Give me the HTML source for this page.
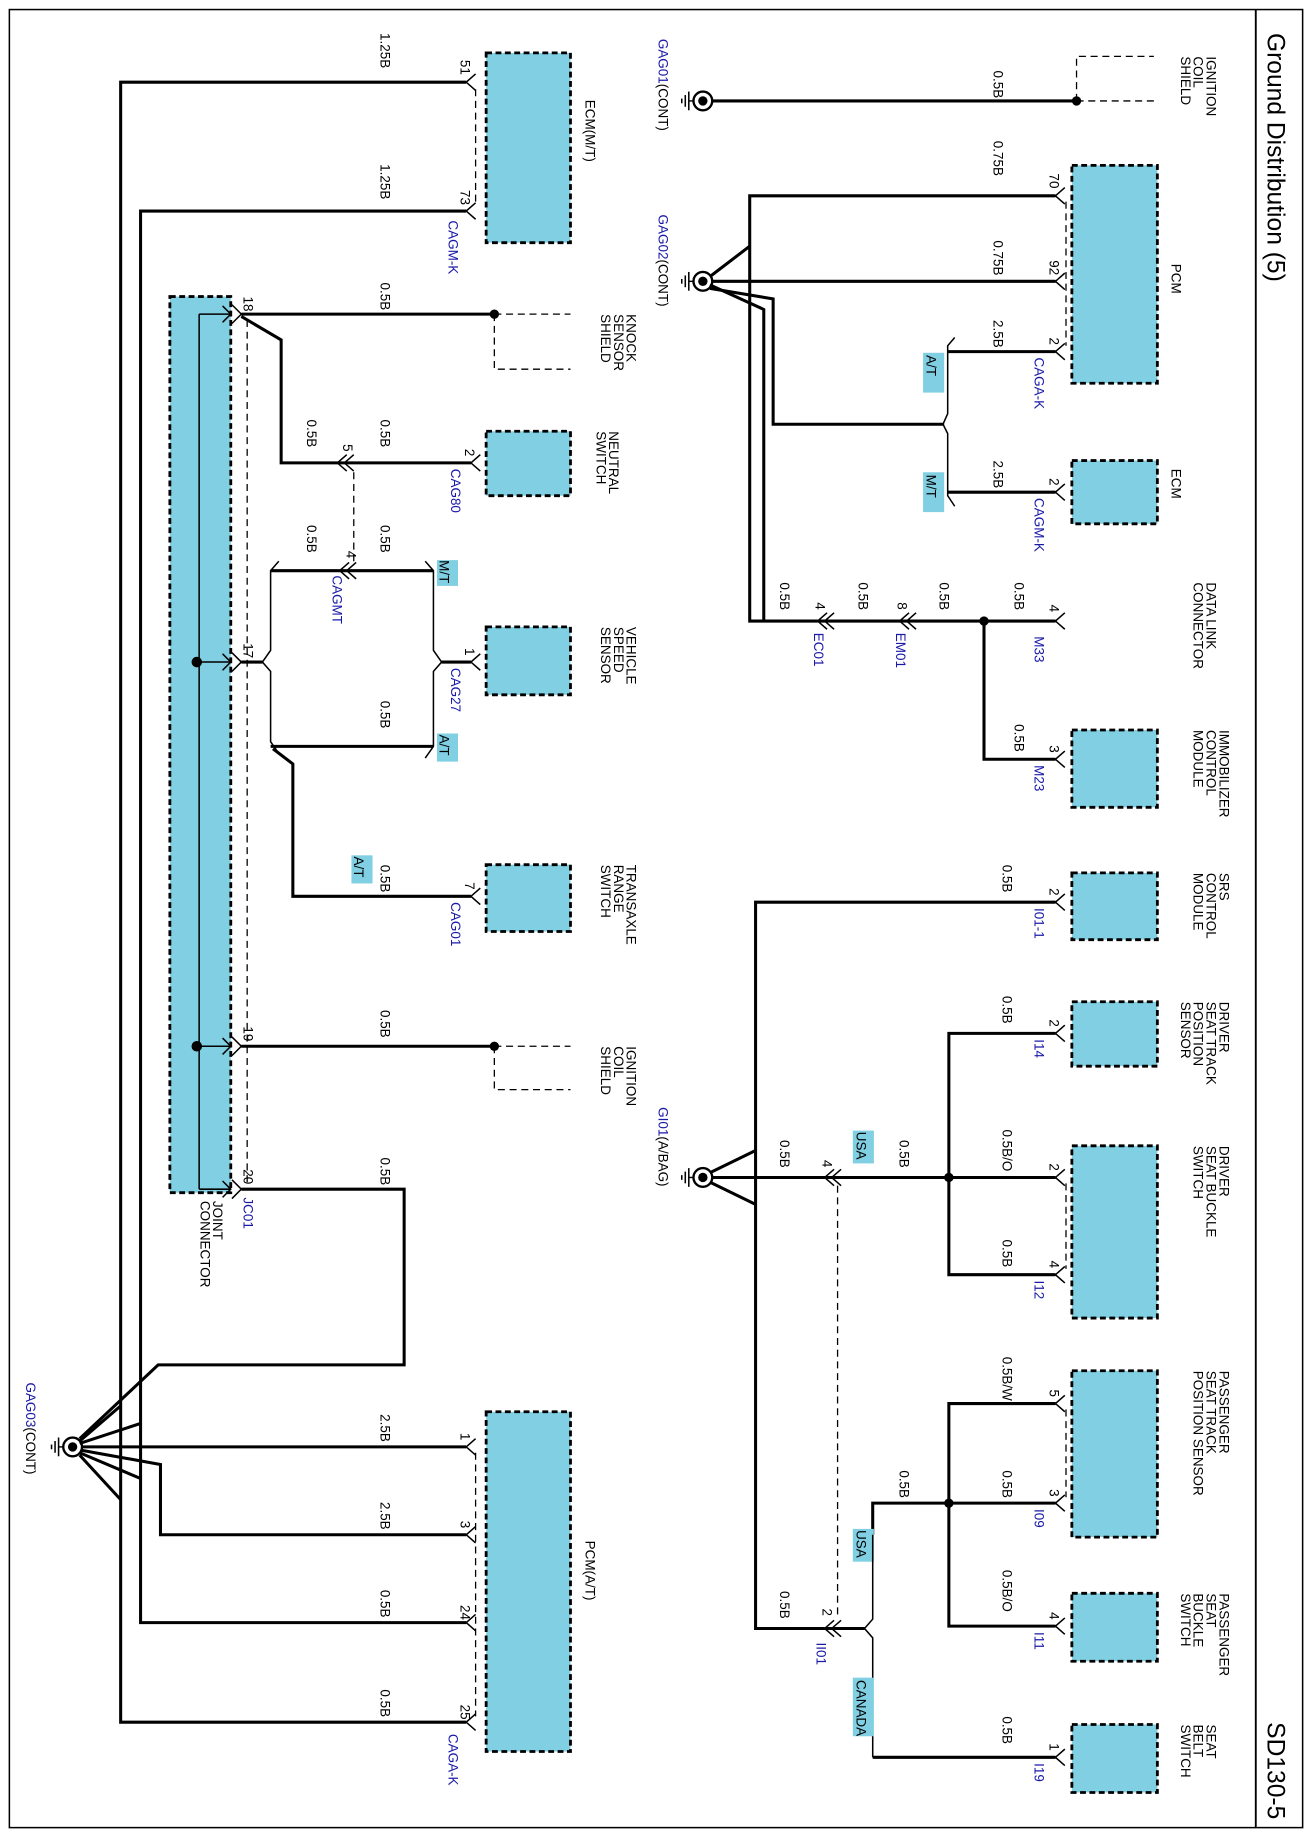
<!DOCTYPE html>
<html><head><meta charset="utf-8"><style>
html,body{margin:0;padding:0;background:#fff}
svg{display:block}
text{font-family:"Liberation Sans",sans-serif;font-size:11.5px;fill:#000}
.b{fill:#1a1aa8}
.w{stroke:#000;stroke-width:2.6;fill:none}
.t{stroke:#000;stroke-width:1.3;fill:none}
.d{stroke:#000;stroke-width:1.1;fill:none;stroke-dasharray:6,4}
.box{fill:#80cfe2;stroke:#000;stroke-width:2.4;stroke-dasharray:5,3}
.tag{fill:#80cfe2}
</style></head><body>
<svg width="1312" height="1836" viewBox="0 0 1120 1567" xmlns="http://www.w3.org/2000/svg">
<rect x="8" y="8" width="1104" height="1552" fill="none" stroke="#000" stroke-width="1.3"/>
<line x1="1072" y1="8" x2="1072" y2="1560" stroke="#000" stroke-width="1.6"/>
<text transform="translate(1082,28) rotate(90)" style="font-size:21px">Ground Distribution (5)</text>
<text transform="translate(1082,1470) rotate(90)" style="font-size:21px">SD130-5</text>

<defs>
<g id="gnd"><circle cx="0" cy="0" r="8" fill="#fff" stroke="#000" stroke-width="2"/><circle cx="0" cy="0" r="4" fill="#000"/>
<line x1="-8" y1="0" x2="-12" y2="0" stroke="#000" stroke-width="1.2"/><line x1="-12" y1="-8" x2="-12" y2="8" stroke="#000" stroke-width="1.3"/><line x1="-15" y1="-5" x2="-15" y2="5" stroke="#000" stroke-width="1.3"/><line x1="-18" y1="-2" x2="-18" y2="2" stroke="#000" stroke-width="1.3"/></g>
<path id="pin" d="M8,-7 L0,0 L8,7" stroke="#000" stroke-width="1.3" fill="none"/>
</defs>

<!-- ========== RIGHT-TOP ========== -->
<use href="#gnd" x="600" y="86"/>
<text transform="translate(562,33) rotate(90)" class="b">GAG01<tspan fill="#000">(CONT)</tspan></text>
<line class="w" x1="608" y1="86" x2="919" y2="86"/>
<circle cx="919" cy="86" r="4"/>
<path class="d" d="M919,86 V48 H985 M919,86 H985"/>
<text transform="translate(1030,48) rotate(90)"><tspan x="0">IGNITION</tspan><tspan x="0" dy="11">COIL</tspan><tspan x="0" dy="11">SHIELD</tspan></text>
<text transform="translate(848,60) rotate(90)">0.5B</text>

<!-- PCM -->
<rect class="box" x="915" y="141" width="73" height="186"/>
<text transform="translate(1000,225) rotate(90)">PCM</text>
<use href="#pin" x="901" y="167"/><use href="#pin" x="901" y="240"/><use href="#pin" x="901" y="300"/>
<line class="d" x1="910" y1="172" x2="910" y2="295"/>
<text transform="translate(896,148) rotate(90)">70</text>
<text transform="translate(896,222) rotate(90)">92</text>
<text transform="translate(896,288) rotate(90)">2</text>
<text transform="translate(883,305) rotate(90)" class="b">CAGA-K</text>
<text transform="translate(848,120) rotate(90)">0.75B</text>
<text transform="translate(848,205) rotate(90)">0.75B</text>
<text transform="translate(848,273) rotate(90)">2.5B</text>
<text transform="translate(848,393) rotate(90)">2.5B</text>

<use href="#gnd" x="600" y="240"/>
<text transform="translate(562,183) rotate(90)" class="b">GAG02<tspan fill="#000">(CONT)</tspan></text>
<polyline class="w" points="901,167 640,167 640,530 698,530"/>
<line class="w" x1="608" y1="240" x2="901" y2="240"/>
<polyline class="w" points="606,236 640,210"/>
<polyline class="w" points="606,243 652,264 652,530"/>
<polyline class="w" points="606,246 660,255 660,362 806,362"/>
<!-- fork -->
<path class="t" d="M815,288 L809,295 V353 L805,362 L809,370 V423 L815,432"/>
<line class="w" x1="809" y1="300" x2="901" y2="300"/>
<line class="w" x1="809" y1="420" x2="901" y2="420"/>
<rect class="tag" x="788" y="301" width="18" height="34"/><text transform="translate(791,303) rotate(90)">A/T</text>
<rect class="tag" x="788" y="403" width="18" height="34"/><text transform="translate(791,405) rotate(90)">M/T</text>

<!-- ECM -->
<rect class="box" x="915" y="393" width="73" height="54"/>
<text transform="translate(1000,400) rotate(90)">ECM</text>
<use href="#pin" x="901" y="420"/>
<text transform="translate(896,408) rotate(90)">2</text>
<text transform="translate(883,425) rotate(90)" class="b">CAGM-K</text>

<!-- Data link -->
<line class="w" x1="698" y1="530" x2="901" y2="530"/>
<use href="#pin" x="698" y="530"/><use href="#pin" x="704" y="530"/>
<use href="#pin" x="768" y="530"/><use href="#pin" x="774" y="530"/>
<text transform="translate(696,514) rotate(90)">4</text>
<text transform="translate(766,514) rotate(90)">8</text>
<text transform="translate(695,540) rotate(90)" class="b">EC01</text>
<text transform="translate(765,540) rotate(90)" class="b">EM01</text>
<text transform="translate(666,497) rotate(90)">0.5B</text>
<text transform="translate(733,497) rotate(90)">0.5B</text>
<text transform="translate(802,497) rotate(90)">0.5B</text>
<text transform="translate(866,497) rotate(90)">0.5B</text>
<use href="#pin" x="901" y="530"/>
<text transform="translate(896,516) rotate(90)">4</text>
<text transform="translate(883,543) rotate(90)" class="b">M33</text>
<text transform="translate(1030,497) rotate(90)"><tspan x="0">DATA LINK</tspan><tspan x="0" dy="11">CONNECTOR</tspan></text>
<circle cx="840" cy="530" r="4"/>
<polyline class="w" points="840,530 840,648 901,648"/>
<rect class="box" x="915" y="623" width="73" height="66"/>
<use href="#pin" x="901" y="648"/>
<text transform="translate(896,636) rotate(90)">3</text>
<text transform="translate(883,653) rotate(90)" class="b">M23</text>
<text transform="translate(866,618) rotate(90)">0.5B</text>
<text transform="translate(1041,623) rotate(90)"><tspan x="0">IMMOBILIZER</tspan><tspan x="0" dy="11">CONTROL</tspan><tspan x="0" dy="11">MODULE</tspan></text>

<!-- SRS etc -->
<rect class="box" x="915" y="745" width="73" height="57"/>
<text transform="translate(1041,745) rotate(90)"><tspan x="0">SRS</tspan><tspan x="0" dy="11">CONTROL</tspan><tspan x="0" dy="11">MODULE</tspan></text>
<use href="#pin" x="901" y="770"/>
<text transform="translate(896,758) rotate(90)">2</text>
<text transform="translate(883,775) rotate(90)" class="b">I01-1</text>
<text transform="translate(856,738) rotate(90)">0.5B</text>
<polyline class="w" points="901,770 645,770 645,1390 704,1390"/>

<rect class="box" x="915" y="855" width="73" height="55"/>
<text transform="translate(1041,855) rotate(90)"><tspan x="0">DRIVER</tspan><tspan x="0" dy="11">SEAT TRACK</tspan><tspan x="0" dy="11">POSITION</tspan><tspan x="0" dy="11">SENSOR</tspan></text>
<use href="#pin" x="901" y="882"/>
<text transform="translate(896,870) rotate(90)">2</text>
<text transform="translate(883,887) rotate(90)" class="b">I14</text>
<text transform="translate(856,850) rotate(90)">0.5B</text>
<polyline class="w" points="901,882 810,882 810,1088 901,1088"/>

<rect class="box" x="915" y="978" width="73" height="147"/>
<text transform="translate(1041,978) rotate(90)"><tspan x="0">DRIVER</tspan><tspan x="0" dy="11">SEAT BUCKLE</tspan><tspan x="0" dy="11">SWITCH</tspan></text>
<use href="#pin" x="901" y="1005"/><use href="#pin" x="901" y="1088"/>
<line class="d" x1="910" y1="1010" x2="910" y2="1083"/>
<text transform="translate(896,993) rotate(90)">2</text>
<text transform="translate(896,1076) rotate(90)">4</text>
<text transform="translate(883,1093) rotate(90)" class="b">I12</text>
<text transform="translate(856,964) rotate(90)">0.5B/O</text>
<text transform="translate(856,1058) rotate(90)">0.5B</text>
<line class="w" x1="608" y1="1005" x2="901" y2="1005"/>
<circle cx="810" cy="1005" r="4"/>
<use href="#pin" x="704" y="1005"/><use href="#pin" x="710" y="1005"/>
<text transform="translate(702,990) rotate(90)">4</text>
<text transform="translate(768,973) rotate(90)">0.5B</text>
<text transform="translate(666,973) rotate(90)">0.5B</text>
<rect class="tag" x="728" y="965" width="18" height="28"/><text transform="translate(731,966) rotate(90)">USA</text>
<line class="d" x1="715" y1="1012" x2="715" y2="1380"/>

<use href="#gnd" x="600" y="1005"/>
<text transform="translate(562,945) rotate(90)" class="b">GI01<tspan fill="#000">(A/BAG)</tspan></text>
<polyline class="w" points="606,1001 645,982"/>
<polyline class="w" points="606,1009 645,1028"/>

<rect class="box" x="915" y="1170" width="73" height="142"/>
<text transform="translate(1041,1170) rotate(90)"><tspan x="0">PASSENGER</tspan><tspan x="0" dy="11">SEAT TRACK</tspan><tspan x="0" dy="11">POSITION SENSOR</tspan></text>
<use href="#pin" x="901" y="1198"/><use href="#pin" x="901" y="1283"/>
<line class="d" x1="910" y1="1203" x2="910" y2="1278"/>
<text transform="translate(896,1186) rotate(90)">5</text>
<text transform="translate(896,1271) rotate(90)">3</text>
<text transform="translate(883,1288) rotate(90)" class="b">I09</text>
<text transform="translate(856,1158) rotate(90)">0.5B/W</text>
<text transform="translate(856,1255) rotate(90)">0.5B</text>
<text transform="translate(856,1340) rotate(90)">0.5B/O</text>
<polyline class="w" points="901,1198 810,1198 810,1388 901,1388"/>
<circle cx="810" cy="1283" r="4"/>
<polyline class="w" points="901,1283 745,1283 745,1310"/>
<text transform="translate(768,1255) rotate(90)">0.5B</text>
<rect class="tag" x="728" y="1305" width="18" height="28"/><text transform="translate(731,1306) rotate(90)">USA</text>
<path class="t" d="M745,1310 V1382 L738,1390 L745,1398 V1500"/>
<line class="w" x1="745" y1="1500" x2="901" y2="1500"/>
<line class="w" x1="704" y1="1390" x2="738" y2="1390"/>
<use href="#pin" x="704" y="1390"/><use href="#pin" x="710" y="1390"/>
<text transform="translate(702,1373) rotate(90)">2</text>
<text transform="translate(697,1402) rotate(90)" class="b">II01</text>
<text transform="translate(666,1358) rotate(90)">0.5B</text>
<rect class="tag" x="728" y="1432" width="18" height="50"/><text transform="translate(731,1434) rotate(90)">CANADA</text>

<rect class="box" x="915" y="1360" width="73" height="58"/>
<text transform="translate(1041,1360) rotate(90)"><tspan x="0">PASSENGER</tspan><tspan x="0" dy="11">SEAT</tspan><tspan x="0" dy="11">BUCKLE</tspan><tspan x="0" dy="11">SWITCH</tspan></text>
<use href="#pin" x="901" y="1388"/>
<text transform="translate(896,1376) rotate(90)">4</text>
<text transform="translate(883,1393) rotate(90)" class="b">I11</text>

<rect class="box" x="915" y="1472" width="73" height="58"/>
<text transform="translate(1030,1472) rotate(90)"><tspan x="0">SEAT</tspan><tspan x="0" dy="11">BELT</tspan><tspan x="0" dy="11">SWITCH</tspan></text>
<use href="#pin" x="901" y="1500"/>
<text transform="translate(896,1488) rotate(90)">1</text>
<text transform="translate(883,1505) rotate(90)" class="b">I19</text>
<text transform="translate(856,1465) rotate(90)">0.5B</text>

<!-- ========== LEFT ========== -->
<rect class="box" x="415" y="45" width="72" height="162"/>
<text transform="translate(500,85) rotate(90)">ECM(M/T)</text>
<use href="#pin" x="398" y="70"/><use href="#pin" x="398" y="180"/>
<line class="d" x1="406" y1="76" x2="406" y2="175"/>
<text transform="translate(393,51) rotate(90)">51</text>
<text transform="translate(393,162) rotate(90)">73</text>
<text transform="translate(383,188) rotate(90)" class="b">CAGM-K</text>
<text transform="translate(325,28) rotate(90)">1.25B</text>
<text transform="translate(325,140) rotate(90)">1.25B</text>
<polyline class="w" points="398,70 103,70 103,1470 398,1470"/>
<polyline class="w" points="398,180 120,180 120,1385 398,1385"/>

<!-- Joint connector -->
<rect class="box" x="145" y="253" width="52" height="765"/>
<line x1="170" y1="268" x2="170" y2="1015" stroke="#000" stroke-width="1.3"/>
<g class="t">
<path d="M170,268 H197 M190,261 L197,268 L190,275"/>
<path d="M170,565 H197 M190,558 L197,565 L190,572"/>
<path d="M170,893 H197 M190,886 L197,893 L190,900"/>
<path d="M170,1015 H197 M190,1008 L197,1015 L190,1022"/>
</g>
<circle cx="168" cy="565" r="4.5"/><circle cx="168" cy="893" r="4.5"/>
<path class="t" d="M198,260 L206,268 L198,276 M198,557 L206,565 L198,573 M198,885 L206,893 L198,901 M198,1007 L206,1015 L198,1023"/>
<line class="d" x1="211" y1="273" x2="211" y2="1010"/>
<text transform="translate(208,253) rotate(90)">18</text>
<text transform="translate(208,549) rotate(90)">17</text>
<text transform="translate(208,876) rotate(90)">19</text>
<text transform="translate(208,998) rotate(90)">20</text>
<text transform="translate(208,1022) rotate(90)" class="b">JC01</text>
<text transform="translate(182,1025) rotate(90)"><tspan x="0">JOINT</tspan><tspan x="0" dy="11">CONNECTOR</tspan></text>

<line class="w" x1="206" y1="268" x2="422" y2="268"/>
<circle cx="422" cy="268" r="4"/>
<path class="d" d="M422,268 V315 H487 M422,268 H487"/>
<text transform="translate(535,268) rotate(90)"><tspan x="0">KNOCK</tspan><tspan x="0" dy="11">SENSOR</tspan><tspan x="0" dy="11">SHIELD</tspan></text>
<text transform="translate(325,241) rotate(90)">0.5B</text>
<polyline class="w" points="206,270 240,290 240,395 288,395"/>
<use href="#pin" x="288" y="395"/><use href="#pin" x="294" y="395"/>
<line class="w" x1="288" y1="395" x2="402" y2="395"/>
<text transform="translate(293,379) rotate(90)">5</text>
<text transform="translate(262,358) rotate(90)">0.5B</text>
<text transform="translate(325,358) rotate(90)">0.5B</text>
<rect class="box" x="415" y="368" width="72" height="55"/>
<use href="#pin" x="402" y="395"/>
<text transform="translate(397,383) rotate(90)">2</text>
<text transform="translate(385,400) rotate(90)" class="b">CAG80</text>
<text transform="translate(520,368) rotate(90)"><tspan x="0">NEUTRAL</tspan><tspan x="0" dy="11">SWITCH</tspan></text>
<line class="d" x1="302" y1="403" x2="302" y2="480"/>

<!-- 17 -->
<line class="w" x1="206" y1="565" x2="224" y2="565"/>
<path class="t" d="M238,479 L231,487 V555 L224,565 L231,573 V633 L238,643"/>
<polyline class="w" points="231,487 370,487"/>
<use href="#pin" x="290" y="487"/><use href="#pin" x="296" y="487"/>
<path class="t" d="M363,479 L370,487 V555 L377,565 L370,573 V637 L363,647"/>
<text transform="translate(296,470) rotate(90)">4</text>
<text transform="translate(284,491) rotate(90)" class="b">CAGMT</text>
<text transform="translate(262,448) rotate(90)">0.5B</text>
<text transform="translate(325,448) rotate(90)">0.5B</text>
<rect class="tag" x="373" y="478" width="18" height="22"/><text transform="translate(375,478) rotate(90)">M/T</text>
<line class="w" x1="377" y1="565" x2="402" y2="565"/>
<rect class="box" x="415" y="535" width="72" height="58"/>
<use href="#pin" x="402" y="565"/>
<text transform="translate(397,553) rotate(90)">1</text>
<text transform="translate(385,570) rotate(90)" class="b">CAG27</text>
<text transform="translate(535,535) rotate(90)"><tspan x="0">VEHICLE</tspan><tspan x="0" dy="11">SPEED</tspan><tspan x="0" dy="11">SENSOR</tspan></text>
<line class="w" x1="231" y1="637" x2="370" y2="637"/>
<text transform="translate(325,598) rotate(90)">0.5B</text>
<rect class="tag" x="373" y="626" width="18" height="24"/><text transform="translate(375,627) rotate(90)">A/T</text>
<polyline class="w" points="233,639 250,652 250,765 402,765"/>
<rect class="tag" x="300" y="730" width="18" height="24"/><text transform="translate(302,731) rotate(90)">A/T</text>
<text transform="translate(325,738) rotate(90)">0.5B</text>
<rect class="box" x="415" y="738" width="72" height="57"/>
<use href="#pin" x="402" y="765"/>
<text transform="translate(397,753) rotate(90)">7</text>
<text transform="translate(385,770) rotate(90)" class="b">CAG01</text>
<text transform="translate(535,738) rotate(90)"><tspan x="0">TRANSAXLE</tspan><tspan x="0" dy="11">RANGE</tspan><tspan x="0" dy="11">SWITCH</tspan></text>

<!-- 19 -->
<line class="w" x1="206" y1="893" x2="422" y2="893"/>
<circle cx="422" cy="893" r="4"/>
<path class="d" d="M422,893 V930 H487 M422,893 H487"/>
<text transform="translate(325,862) rotate(90)">0.5B</text>
<text transform="translate(535,893) rotate(90)"><tspan x="0">IGNITION</tspan><tspan x="0" dy="11">COIL</tspan><tspan x="0" dy="11">SHIELD</tspan></text>

<!-- 20 -->
<polyline class="w" points="206,1015 345,1015 345,1165 135,1165 68,1228"/>
<text transform="translate(325,988) rotate(90)">0.5B</text>

<!-- PCM(A/T) -->
<rect class="box" x="415" y="1205" width="72" height="290"/>
<text transform="translate(500,1315) rotate(90)">PCM(A/T)</text>
<use href="#pin" x="398" y="1235"/><use href="#pin" x="398" y="1310"/><use href="#pin" x="398" y="1385"/><use href="#pin" x="398" y="1470"/>
<line class="d" x1="406" y1="1240" x2="406" y2="1465"/>
<text transform="translate(393,1223) rotate(90)">1</text>
<text transform="translate(393,1298) rotate(90)">3</text>
<text transform="translate(393,1370) rotate(90)">24</text>
<text transform="translate(393,1455) rotate(90)">25</text>
<text transform="translate(383,1480) rotate(90)" class="b">CAGA-K</text>
<text transform="translate(325,1207) rotate(90)">2.5B</text>
<text transform="translate(325,1282) rotate(90)">2.5B</text>
<text transform="translate(325,1357) rotate(90)">0.5B</text>
<text transform="translate(325,1442) rotate(90)">0.5B</text>

<use href="#gnd" x="62" y="1235"/>
<text transform="translate(22,1180) rotate(90)" class="b">GAG03<tspan fill="#000">(CONT)</tspan></text>
<line class="w" x1="70" y1="1235" x2="398" y2="1235"/>
<polyline class="w" points="398,1310 137,1310 137,1250 70,1238"/>
<polyline class="w" points="68,1230 103,1200"/>
<polyline class="w" points="68,1232 120,1215"/>
<polyline class="w" points="68,1240 120,1262"/>
<polyline class="w" points="68,1242 103,1280"/>
</svg>
</body></html>
